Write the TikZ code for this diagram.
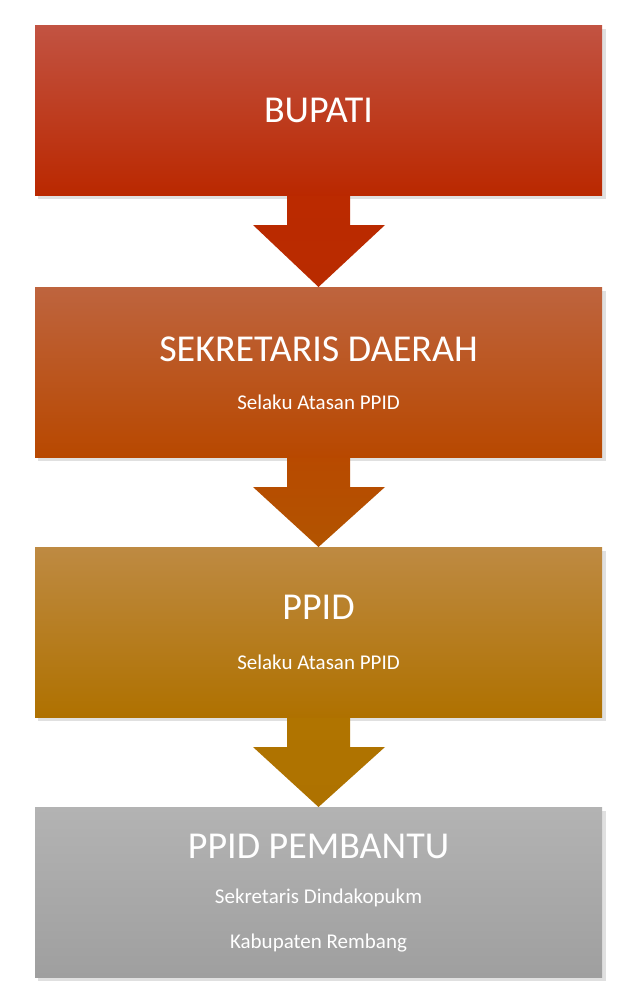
\documentclass[tikz,border=0pt]{standalone}
\usepackage{fontspec}
\setmainfont{Carlito}
\definecolor{a1t}{HTML}{BB2A00}\definecolor{a1b}{HTML}{B92B00}
\definecolor{a2t}{HTML}{B84A00}\definecolor{a2b}{HTML}{B25400}
\definecolor{a3t}{HTML}{B07400}\definecolor{a3b}{HTML}{AE7200}
\definecolor{b1t}{HTML}{C25342}\definecolor{b1b}{HTML}{BA2800}
\definecolor{b2t}{HTML}{BE643E}\definecolor{b2b}{HTML}{B84800}
\definecolor{b3t}{HTML}{BE8A42}\definecolor{b3b}{HTML}{AF7100}
\definecolor{b4t}{HTML}{B3B3B3}\definecolor{b4b}{HTML}{9F9F9F}
\begin{document}
\begin{tikzpicture}[x=1pt,y=-1pt,
  box/.style={minimum width=567pt,minimum height=170pt,inner sep=0pt,anchor=north west},
  title/.style={font=\fontsize{38}{40}\selectfont,text=white},
  sub/.style={font=\fontsize{21}{34}\selectfont,text=white}]
\useasboundingbox (0,0) rectangle (631,1001);
\fill[white] (0,0) rectangle (631,1001);
\foreach \t in {25,287,547,807} \fill[black!12] (38,\t+4) rectangle (606,\t+174);
\def\arr#1#2#3#4{\shade[top color=#3,bottom color=#4] (287,#1) -- (350,#1) -- (350,#1+30) -- (385,#1+30) -- (318.5,#2) -- (253,#1+30) -- (287,#1+30) -- cycle;}
\arr{195}{287}{a1t}{a1b}
\arr{457}{547}{a2t}{a2b}
\arr{717}{807}{a3t}{a3b}
\node[box,top color=b1t,bottom color=b1b] (b1) at (35,25) {};
\node[title] (t1) at (318.5,110) {BUPATI};
\node[box,top color=b2t,bottom color=b2b] (b2) at (35,287) {};
\node[title] (t2) at (318.5,349) {SEKRETARIS DAERAH};
\node[sub] (s2) at (318.5,402) {Selaku Atasan PPID};
\node[box,top color=b3t,bottom color=b3b] (b3) at (35,547) {};
\node[title] (t3) at (318.5,607) {PPID};
\node[sub] (s3) at (318.5,662) {Selaku Atasan PPID};
\node[box,top color=b4t,bottom color=b4b] (b4) at (35,807) {};
\node[title] (t4) at (318.5,846) {PPID PEMBANTU};
\node[sub] (s4) at (318.5,898) {Sekretaris Dindakopukm};
\node[sub] (s5) at (318.5,943) {Kabupaten Rembang};
\end{tikzpicture}
\end{document}
